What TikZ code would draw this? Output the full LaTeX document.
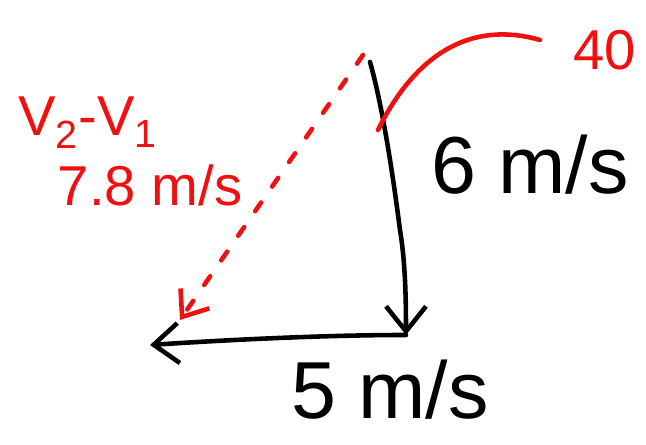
\documentclass[tikz,border=0pt]{standalone}
\usepackage{fontspec}
\setmainfont{Liberation Sans}
\usetikzlibrary{arrows.meta,positioning,calc}
\definecolor{inkred}{HTML}{F01010}
\definecolor{ink}{HTML}{000000}
\tikzset{
  stroke/.style={line width=2.6pt, line cap=round, line join=round},
  vec/.style={stroke, draw=ink, -{Straight Barb[length=5mm, width=8mm, line width=2.6pt]}},
  diffvec/.style={stroke, draw=inkred, dash pattern=on 6pt off 11pt, -{Straight Barb[length=4.5mm, width=7mm, line width=2.6pt]}},
  anglemark/.style={stroke, draw=inkred},
  bigtext/.style={font=\fontsize{46}{46}\selectfont, text=ink},
  redtext/.style={font=\fontsize{32}{32}\selectfont, text=inkred}
}
\begin{document}
\begin{tikzpicture}
  \useasboundingbox (0,0) rectangle (12.92,8.9);
  % vector tips
  \coordinate (top) at (7.4,7.66);
  \coordinate (corner) at (8.12,2.2);
  \coordinate (left) at (3.0,2.0);
  \coordinate (redtop) at (7.26,7.8);
  \coordinate (redtip) at (3.6,2.5);
  \coordinate (arcstart) at (7.56,6.3);
  \coordinate (arcend) at (10.8,8.1);
  % labels
  \node[redtext] (angle) at (12.1,7.9) {40};
  \node[redtext] (diff) at (1.76,6.45) {V\textsubscript{2}-V\textsubscript{1}};
  \node[redtext] (diffval) at (3.0,5.2) {7.8 m/s};
  \node[bigtext] (vert) at (10.6,5.6) {6 m/s};
  \node[bigtext] (horiz) at (7.8,1.1) {5 m/s};
  % vectors
  \draw[vec] (top) .. controls (7.72,6.54) and (7.96,4.6) .. (8.0,4.3)
    .. controls (8.1,3.7) and (8.12,3.0) .. (corner);
  \draw[vec] (corner) .. controls (6.5,2.2) and (4.5,2.1) .. (left);
  \draw[diffvec] (redtop) -- (redtip);
  \draw[anglemark] (arcstart) .. controls (8.3,7.8) and (9.4,8.5) .. (arcend);
\end{tikzpicture}
\end{document}
